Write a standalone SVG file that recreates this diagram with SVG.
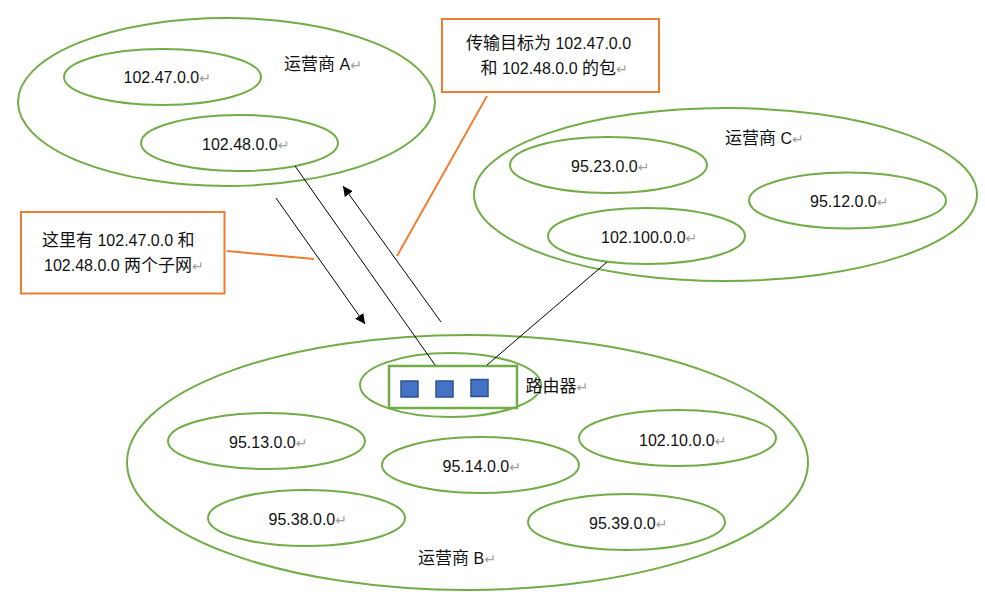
<svg xmlns="http://www.w3.org/2000/svg" width="985" height="602" viewBox="0 0 985 602">
<style>
.g{fill:none;stroke:#70AD47;stroke-width:2}
.box{fill:#FFFFFF;stroke:#ED7D31;stroke-width:2}
.or{stroke:#ED7D31;stroke-width:2;fill:none}
.ln{stroke:#000000;stroke-width:1;fill:none}
.sq{fill:#4472C4;stroke:#2F528F;stroke-width:1.5}
text{font-family:"Liberation Sans","Noto Sans CJK SC",sans-serif;font-size:16px;fill:#111111}
.c{font-family:"Noto Sans CJK SC",sans-serif;font-size:17px}
.ret{fill:#A0A0A0;font-family:"DejaVu Sans",sans-serif;font-size:14px}
</style>
<defs>
<marker id="arr" viewBox="0 0 10 10" refX="10" refY="5" markerWidth="10" markerHeight="10" markerUnits="userSpaceOnUse" orient="auto">
<path d="M0,0 L10,5 L0,10 Z" fill="#000000"/>
</marker>
</defs>
<rect width="985" height="602" fill="#FFFFFF"/>

<g id="operator-A">
<ellipse class="g" cx="226.5" cy="102" rx="208.5" ry="84"/>
<text x="284" y="70"><tspan class="c">运营商</tspan> A<tspan class="ret">↵</tspan></text>
</g>
<g id="net-102-47">
<ellipse class="g" cx="162.5" cy="77" rx="98.5" ry="28"/>
<text x="123.5" y="83">102.47.0.0<tspan class="ret">↵</tspan></text>
</g>
<g id="net-102-48">
<ellipse class="g" cx="239.5" cy="143" rx="98.5" ry="28"/>
<text x="202" y="150">102.48.0.0<tspan class="ret">↵</tspan></text>
</g>

<g id="operator-C">
<ellipse class="g" cx="725.5" cy="194.5" rx="251.5" ry="86.5"/>
<text x="725" y="144"><tspan class="c">运营商</tspan> C<tspan class="ret">↵</tspan></text>
</g>
<g id="net-95-23">
<ellipse class="g" cx="608.5" cy="165" rx="98.5" ry="28"/>
<text x="571" y="171.5">95.23.0.0<tspan class="ret">↵</tspan></text>
</g>
<g id="net-95-12">
<ellipse class="g" cx="847.5" cy="200.5" rx="98.5" ry="28"/>
<text x="810" y="206.5">95.12.0.0<tspan class="ret">↵</tspan></text>
</g>
<g id="net-102-100">
<ellipse class="g" cx="646.5" cy="236" rx="98.5" ry="28"/>
<text x="601" y="242.5">102.100.0.0<tspan class="ret">↵</tspan></text>
</g>

<g id="operator-B">
<ellipse class="g" cx="467.5" cy="462.5" rx="340.5" ry="127.5"/>
<text x="418" y="564"><tspan class="c">运营商</tspan> B<tspan class="ret">↵</tspan></text>
</g>
<g id="router">
<ellipse class="g" cx="450.5" cy="385" rx="90.5" ry="32"/>
<rect x="389" y="366" width="128" height="42" fill="none" stroke="#70AD47" stroke-width="2.5"/>
<rect class="sq" x="401" y="381" width="17" height="16"/>
<rect class="sq" x="436" y="381" width="17" height="16"/>
<rect class="sq" x="471" y="379.5" width="17" height="17"/>
<text x="525.5" y="391.5"><tspan class="c">路由器</tspan><tspan class="ret">↵</tspan></text>
</g>
<g id="net-95-13">
<ellipse class="g" cx="266.5" cy="441" rx="98.5" ry="28"/>
<text x="229" y="447.5">95.13.0.0<tspan class="ret">↵</tspan></text>
</g>
<g id="net-95-14">
<ellipse class="g" cx="480.5" cy="465" rx="98.5" ry="28"/>
<text x="442.5" y="471.5">95.14.0.0<tspan class="ret">↵</tspan></text>
</g>
<g id="net-102-10">
<ellipse class="g" cx="677.5" cy="438" rx="98.5" ry="28"/>
<text x="639" y="445.5">102.10.0.0<tspan class="ret">↵</tspan></text>
</g>
<g id="net-95-38">
<ellipse class="g" cx="306.5" cy="518" rx="98.5" ry="28"/>
<text x="268.5" y="524.5">95.38.0.0<tspan class="ret">↵</tspan></text>
</g>
<g id="net-95-39">
<ellipse class="g" cx="626.5" cy="522" rx="98.5" ry="28"/>
<text x="589" y="528.5">95.39.0.0<tspan class="ret">↵</tspan></text>
</g>

<g id="callout-packets">
<rect class="box" x="442" y="19" width="217" height="73"/>
<text x="466" y="49"><tspan class="c">传输目标为</tspan> 102.47.0.0</text>
<text x="480.5" y="74"><tspan class="c">和</tspan> 102.48.0.0 <tspan class="c">的包</tspan><tspan class="ret">↵</tspan></text>
</g>
<g id="callout-subnets">
<rect class="box" x="21" y="212" width="203.5" height="81.5"/>
<text x="42" y="245.5"><tspan class="c">这里有</tspan> 102.47.0.0 <tspan class="c">和</tspan></text>
<text x="44" y="271">102.48.0.0 <tspan class="c">两个子网</tspan><tspan class="ret">↵</tspan></text>
</g>

<g id="connectors">
<line class="ln" x1="295" y1="166" x2="435" y2="365"/>
<line class="ln" x1="487" y1="365" x2="607" y2="262"/>
<line class="ln" x1="276" y1="198" x2="365" y2="324" marker-end="url(#arr)"/>
<line class="ln" x1="441" y1="322" x2="343" y2="186" marker-end="url(#arr)"/>
<line class="or" x1="487" y1="96" x2="397" y2="256"/>
<line class="or" x1="227" y1="251" x2="314" y2="259"/>
</g>
</svg>
